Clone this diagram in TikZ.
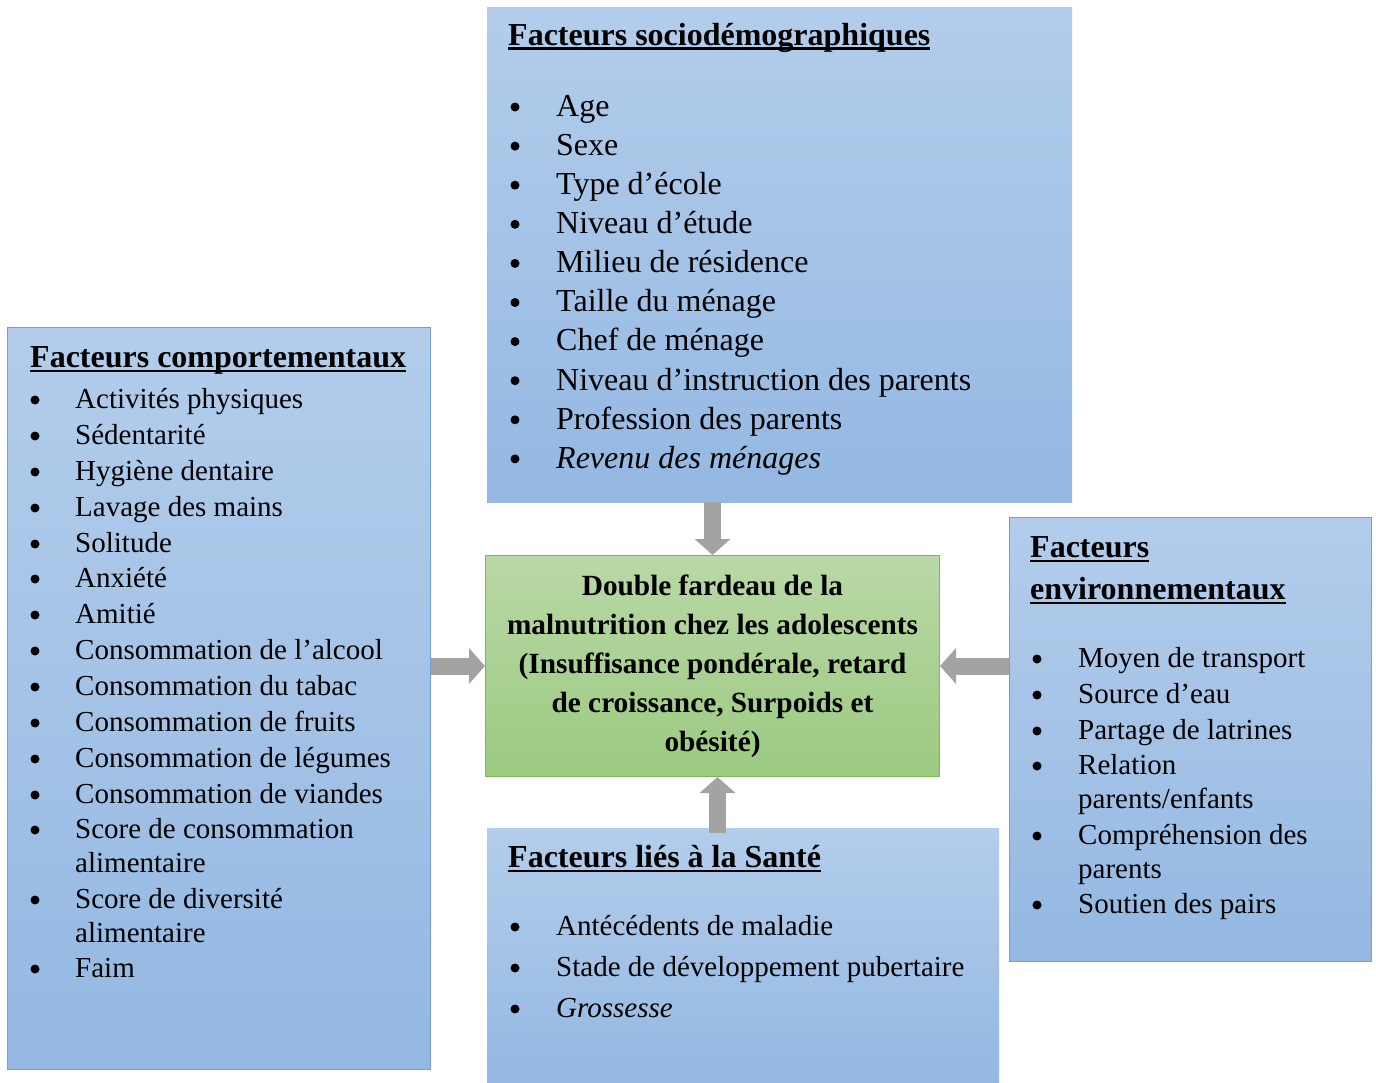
\documentclass[tikz,border=0pt]{standalone}
\usepackage{fontspec}
\setmainfont{Liberation Serif}
\usetikzlibrary{arrows.meta,calc}
\definecolor{btop}{RGB}{179,205,235}
\definecolor{bbot}{RGB}{148,184,226}
\definecolor{bline}{RGB}{112,160,214}
\definecolor{gtop}{RGB}{185,216,166}
\definecolor{gbot}{RGB}{156,202,129}
\definecolor{gline}{RGB}{124,184,82}
\definecolor{arr}{RGB}{163,163,163}
\newcommand\myul[1]{\setbox0\hbox{#1}\rlap{\rule[-5pt]{\wd0}{2.8pt}}\box0}
\tikzset{
  fbox/.style={rectangle, inner sep=0pt, anchor=north west, top color=btop, bottom color=bbot},
  item/.style={anchor=mid west, inner sep=0pt, yshift=-6pt, font=\fontsize{29}{33}\selectfont},
  bigitem/.style={item, yshift=-1pt, font=\fontsize{32}{36}\selectfont},
  ttl/.style={anchor=mid west, inner sep=0pt, yshift=-7pt, font=\fontsize{32}{36}\selectfont\bfseries},
  blockarr/.style={draw=arr, line width=17pt, -{Triangle[width=35pt,length=16pt]}},
}
\begin{document}
\begin{tikzpicture}[x=1pt,y=-1pt]
\useasboundingbox (0,0) rectangle (1376,1082);
% boxes
\node[fbox, minimum width=585pt, minimum height=495pt] (topbox) at (487,7) {};
\node[fbox, draw=bline, line width=1.2pt, minimum width=423pt, minimum height=742pt] (lbox) at (7,327) {};
\node[fbox, draw=bline, line width=1.2pt, minimum width=362pt, minimum height=444pt] (rbox) at (1009,517) {};
\node[fbox, minimum width=512pt, minimum height=254pt] (bbox) at (487,828) {};
\node[rectangle, inner sep=0pt, anchor=north west, top color=gtop, bottom color=gbot, draw=gline, line width=1pt, minimum width=454pt, minimum height=221pt] (dbf) at (485,555) {};
\node[align=center, font=\fontsize{29.3}{39}\selectfont\bfseries, inner sep=0pt] (dbftxt) at (dbf.center)
  {Double fardeau de la\\malnutrition chez les adolescents\\(Insuffisance pondérale, retard\\de croissance, Surpoids et\\obésité)};
% arrows
\draw[blockarr] (dbf.north |- topbox.south) -- (dbf.north);
\draw[blockarr] (lbox.east |- dbf.west) -- (dbf.west);
\draw[blockarr] (rbox.west |- dbf.east) -- (dbf.east);
\draw[blockarr, shorten <=-5pt] ([xshift=5pt]dbf.south |- bbox.north) -- ([xshift=5pt]dbf.south);
% titles
\node[ttl] (t1) at (508,36) {\myul{Facteurs sociodémographiques}};
\node[ttl] (t2) at (30,358) {\myul{Facteurs comportementaux}};
\node[ttl] (t3) at (1030,548) {\myul{Facteurs}};
\node[ttl] (t4) at (1030,590) {\myul{environnementaux}};
\node[ttl] (t5) at (508,858) {\myul{Facteurs liés à la Santé}};
% top items
\foreach \t [count=\i] in {Age, Sexe, Type d’école, Niveau d’étude, Milieu de résidence, Taille du ménage, Chef de ménage, Niveau d’instruction des parents, Profession des parents, {\textit{Revenu des ménages}}}{
  \pgfmathsetmacro\yy{107+(\i-1)*39.1}
  \fill (515,\yy) circle (4.5pt);
  \node[bigitem] (ti\i) at (556,\yy) {\t};
}
% left items
\foreach \y/\b/\t [count=\i] in {400/1/Activités physiques, 436/1/Sédentarité, 472/1/Hygiène dentaire, 508/1/Lavage des mains, 544/1/Solitude, 579/1/Anxiété, 615/1/Amitié, 651/1/Consommation de l’alcool, 687/1/Consommation du tabac, 723/1/Consommation de fruits, 759/1/Consommation de légumes, 795/1/Consommation de viandes, 830/1/Score de consommation, 864/0/alimentaire, 900/1/Score de diversité, 934/0/alimentaire, 969/1/Faim}{
  \ifnum\b=1 \fill (35,\y) circle (4.5pt);\fi
  \node[item] (li\i) at (75,\y) {\t};
}
% right items
\foreach \y/\b/\t [count=\i] in {659/1/Moyen de transport, 695/1/Source d’eau, 731/1/Partage de latrines, 766/1/Relation, 800/0/{parents/enfants}, 836/1/Compréhension des, 870/0/parents, 905/1/Soutien des pairs}{
  \ifnum\b=1 \fill (1037,\y) circle (4.5pt);\fi
  \node[item] (ri\i) at (1078,\y) {\t};
}
% bottom items
\foreach \y/\t [count=\i] in {927/Antécédents de maladie, 968/Stade de développement pubertaire, 1009/{\textit{Grossesse}}}{
  \fill (515,\y) circle (4.5pt);
  \node[item] (bi\i) at (556,\y) {\t};
}
\end{tikzpicture}
\end{document}
